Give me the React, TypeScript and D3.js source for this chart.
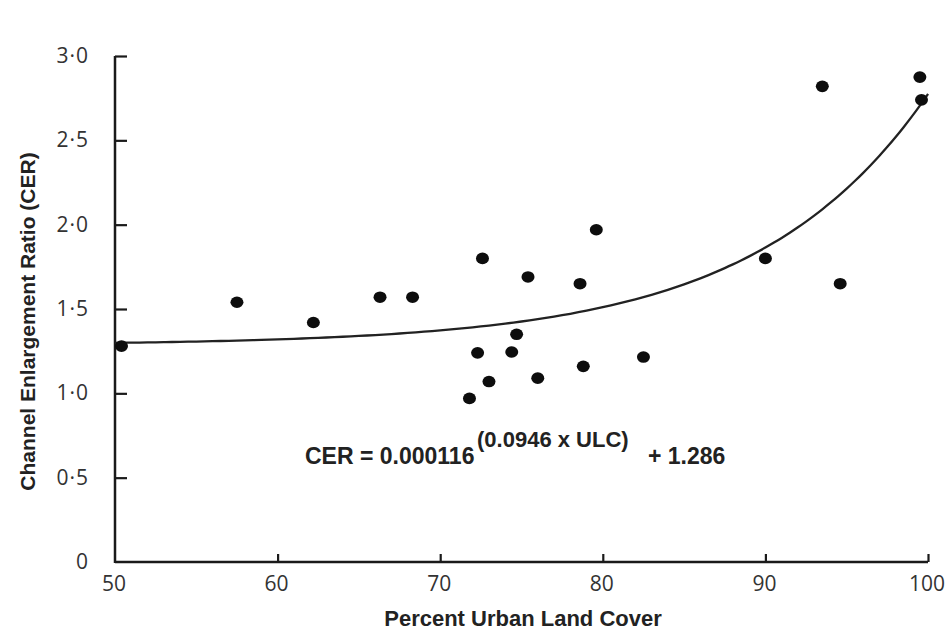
import React, { useEffect, useRef } from 'react'
import * as d3 from 'd3'

// Percent urban land cover (ULC) vs channel enlargement ratio (CER)
const ulc = [50.4, 57.5, 62.2, 66.3, 68.3, 72.6, 79.6, 75.4, 78.6, 74.7, 72.3, 74.4, 82.5, 78.8, 73.0, 76.0, 71.8, 90.0, 93.5, 94.6, 99.5, 99.6]
const cer = [1.28, 1.54, 1.42, 1.57, 1.57, 1.80, 1.97, 1.69, 1.65, 1.35, 1.24, 1.245, 1.215, 1.16, 1.07, 1.09, 0.97, 1.80, 2.82, 1.65, 2.875, 2.74]

const xTicks = [50, 60, 70, 80, 90, 100]
const yTicks = [0, 0.5, 1.0, 1.5, 2.0, 2.5, 3.0]
const yTickLabels = ['0', '0·5', '1·0', '1·5', '2·0', '2·5', '3·0']

// fitted curve: CER = a * e^(b * ULC) + c
const fitA = 0.000116
const fitB = 0.0946
const fitC = 1.286

export default function App() {
  const svgRef = useRef<SVGSVGElement>(null)

  useEffect(() => {
    if (!svgRef.current) return
    const svg = d3.select(svgRef.current)
    svg.selectAll('*').remove()

    const x = d3.scaleLinear().domain([50, 100]).range([115, 928])
    const y = d3.scaleLinear().domain([0, 3]).range([562, 56])
    const ink = '#1a1a1a'
    const tickFont = '"Open Sans", "DejaVu Sans", sans-serif'
    const boldFont = '"Liberation Sans", Arial, sans-serif'

    svg.append('rect').attr('width', 948).attr('height', 631).attr('fill', '#fff')

    // axes
    const xAxis = svg
      .append('g')
      .attr('transform', `translate(0,${y(0)})`)
      .call(d3.axisTop(x).tickValues(xTicks).tickSize(8).tickFormat(() => ''))
    const yAxis = svg
      .append('g')
      .attr('transform', `translate(${x(50)},0)`)
      .call(d3.axisRight(y).tickValues(yTicks).tickSize(12).tickFormat(() => ''))

    ;[xAxis, yAxis].forEach((ax) => {
      ax.select('.domain').attr('stroke', ink).attr('stroke-width', 2.5)
      ax.selectAll('.tick line').attr('stroke', ink).attr('stroke-width', 2.2)
    })
    xAxis.select('.domain').attr('d', `M${x(50)},0H${x(100)}`)
    yAxis.select('.domain').attr('d', `M0,${y(3)}V${y(0) + 1}`)
    yAxis.selectAll('.tick').filter((d) => d === 0).remove()
    xAxis.selectAll('.tick').filter((d) => d === 50).remove()

    // tick labels
    svg
      .append('g')
      .selectAll('text')
      .data(xTicks)
      .join('text')
      .attr('x', (d) => x(d) - 1)
      .attr('y', y(0) + 29)
      .attr('text-anchor', 'middle')
      .style('font-family', tickFont)
      .style('font-size', '21px')
      .style('fill', '#333')
      .text((d) => String(d))

    svg
      .append('g')
      .selectAll('text')
      .data(yTicks)
      .join('text')
      .attr('x', 89)
      .attr('y', (d) => y(d) + 7)
      .attr('text-anchor', 'end')
      .style('font-family', tickFont)
      .style('font-size', '21px')
      .style('letter-spacing', '1px')
      .style('fill', '#333')
      .text((d, i) => yTickLabels[i])

    // titles
    svg
      .append('text')
      .attr('x', 523)
      .attr('y', 626)
      .attr('text-anchor', 'middle')
      .style('font-family', boldFont)
      .style('font-weight', 'bold')
      .style('font-size', '22px')
      .style('fill', '#222')
      .text('Percent Urban Land Cover')

    svg
      .append('text')
      .attr('transform', `translate(35,${(153 + 490) / 2}) rotate(-90)`)
      .attr('text-anchor', 'middle')
      .style('font-family', boldFont)
      .style('font-weight', 'bold')
      .style('font-size', '21px')
      .style('fill', '#222')
      .text('Channel Enlargement Ratio (CER)')

    // fitted curve
    const curvePts = d3.range(50, 100.001, 0.5).map((u) => [u, fitA * Math.exp(fitB * u) + fitC])
    svg
      .append('path')
      .attr(
        'd',
        d3
          .line<number[]>()
          .x((d) => x(d[0]))
          .y((d) => y(d[1]))
          .curve(d3.curveMonotoneX)(curvePts)
      )
      .attr('fill', 'none')
      .attr('stroke', '#222')
      .attr('stroke-width', 2.3)

    // points
    svg
      .append('g')
      .selectAll('ellipse')
      .data(ulc.map((u, i) => [u, cer[i]]))
      .join('ellipse')
      .attr('cx', (d) => x(d[0]))
      .attr('cy', (d) => y(d[1]))
      .attr('rx', 6.5)
      .attr('ry', 5.8)
      .attr('fill', '#0d0d0d')

    // equation
    const eq = svg
      .append('text')
      .style('font-family', boldFont)
      .style('font-weight', 'bold')
      .style('fill', '#222')
    eq.append('tspan').attr('x', 305).attr('y', 464).style('font-size', '23px').text('CER = 0.000116')
    eq.append('tspan').attr('x', 477).attr('y', 447).style('font-size', '22px').text('(0.0946 x ULC)')
    eq.append('tspan').attr('x', 648).attr('y', 464).style('font-size', '23px').text('+ 1.286')
  }, [])

  return (
    <svg
      ref={svgRef}
      width={948}
      height={631}
      style={{ position: 'absolute', left: 0, top: 0 }}
    />
  )
}
